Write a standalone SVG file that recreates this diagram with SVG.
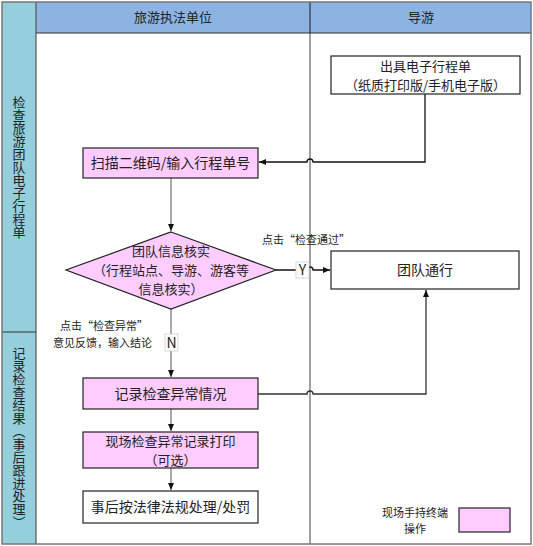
<svg xmlns="http://www.w3.org/2000/svg" width="533" height="546" viewBox="0 0 533 546">
<defs>
<style>
text{font-family:"Noto Sans CJK SC","Liberation Sans",sans-serif;fill:#222;}
.box{stroke:#222;stroke-width:1.2;}
.pink{fill:#FFCCFF;}
.white{fill:#fff;}
.t14{font-size:14px;text-anchor:middle;}
.t2{font-size:13px;text-anchor:middle;}
.t13{font-size:13px;text-anchor:middle;}
.t11{font-size:11px;}
.cg{fill:none;stroke:#8c8c8c;stroke-width:1.5;}
.cb{fill:none;stroke:#111;stroke-width:1.3;}
.vt{font-size:13px;writing-mode:vertical-rl;text-anchor:middle;}
</style>
<marker id="ah" markerUnits="userSpaceOnUse" markerWidth="8" markerHeight="7" refX="7" refY="3" orient="auto">
<path d="M0,0 L7,3 L0,6 z" fill="#111"/>
</marker>
</defs>
<rect width="533" height="546" fill="#fff"/>
<g id="frame">
<rect x="2" y="2" width="34" height="542" fill="#95CFDC"/>
<rect x="36" y="2" width="495" height="31" fill="#8DB3E2"/>
<line x1="310" y1="33" x2="310" y2="544" stroke="#a0a0a0" stroke-width="2"/>
<line x1="310" y1="2" x2="310" y2="33" stroke="#333" stroke-width="1.2"/>
<line x1="36" y1="33" x2="531" y2="33" stroke="#333" stroke-width="1.2"/>
<line x1="36" y1="2" x2="36" y2="544" stroke="#555" stroke-width="1.2"/>
<line x1="2" y1="332" x2="36" y2="332" stroke="#333" stroke-width="1.2"/>
<rect x="2" y="2" width="529" height="542" fill="none" stroke="#777" stroke-width="1.5"/>
<text class="t13" x="173" y="22">旅游执法单位</text>
<text class="t13" x="421" y="22">导游</text>
<text class="vt" x="19" y="167">检查旅游团队电子行程单</text>
<text class="vt" x="19" y="438">记录检查结果（事后跟进处理）</text>
</g>
<g id="connectors">
<path class="cb" d="M425,94 V162 H313 A3,3 0 0 0 307,162 H259" marker-end="url(#ah)"/>
<path class="cg" d="M171,178 V231" marker-end="url(#ah)"/>
<path class="cb" d="M276,270 H307 A3,3 0 0 1 313,270 H330" marker-end="url(#ah)"/>
<path class="cg" d="M171,309 V377" marker-end="url(#ah)"/>
<path d="M258,394 H307 A3,3 0 0 1 313,394 H426 V290" fill="none" stroke="#333" stroke-width="1.3" marker-end="url(#ah)"/>
<path class="cg" d="M171,409 V431" marker-end="url(#ah)"/>
<path class="cg" d="M171,468 V490" marker-end="url(#ah)"/>
<rect x="296" y="262" width="13" height="16" fill="#fff" stroke="#ccc" stroke-width="0.8"/>
<text x="302.5" y="275" font-size="14" text-anchor="middle">Y</text>
<rect x="165" y="334" width="13" height="17" fill="#fff" stroke="#ccc" stroke-width="0.8"/>
<text x="171.5" y="348" font-size="14" text-anchor="middle">N</text>
<text class="t11" x="262" y="244">点击“检查通过”</text>
<text class="t11" x="60" y="330">点击“检查异常”</text>
<text class="t11" x="53" y="347">意见反馈，输入结论</text>
</g>
<g id="n_issue">
<rect class="box white" x="331" y="56" width="189" height="38"/>
<text class="t2" x="425.5" y="71">出具电子行程单</text>
<text class="t2" x="425.5" y="90">（纸质打印版/手机电子版）</text>
</g>
<g id="n_scan">
<rect class="box pink" x="83" y="148" width="175" height="30"/>
<text class="t14" x="170.5" y="168">扫描二维码/输入行程单号</text>
</g>
<g id="n_check">
<polygon class="box pink" points="171,232 276,270 171,309 66,270"/>
<text class="t2" x="171" y="256">团队信息核实</text>
<text class="t2" x="171" y="275">（行程站点、导游、游客等</text>
<text class="t2" x="171" y="294">信息核实）</text>
</g>
<g id="n_pass">
<rect class="box white" x="331" y="251" width="188" height="38"/>
<text class="t14" x="425" y="275">团队通行</text>
</g>
<g id="n_record">
<rect class="box pink" x="83" y="378" width="175" height="31"/>
<text class="t14" x="170.5" y="399">记录检查异常情况</text>
</g>
<g id="n_print">
<rect class="box pink" x="83" y="432" width="175" height="36"/>
<text class="t2" x="170.5" y="446">现场检查异常记录打印</text>
<text class="t2" x="170.5" y="465">（可选）</text>
</g>
<g id="n_punish">
<rect class="box white" x="83" y="491" width="175" height="32"/>
<text class="t14" x="170.5" y="512">事后按法律法规处理/处罚</text>
</g>
<g id="legend">
<text class="t11" x="415" y="517" text-anchor="middle">现场手持终端</text>
<text class="t11" x="415" y="533" text-anchor="middle">操作</text>
<rect class="box pink" x="459" y="508" width="51" height="24"/>
</g>
</svg>
